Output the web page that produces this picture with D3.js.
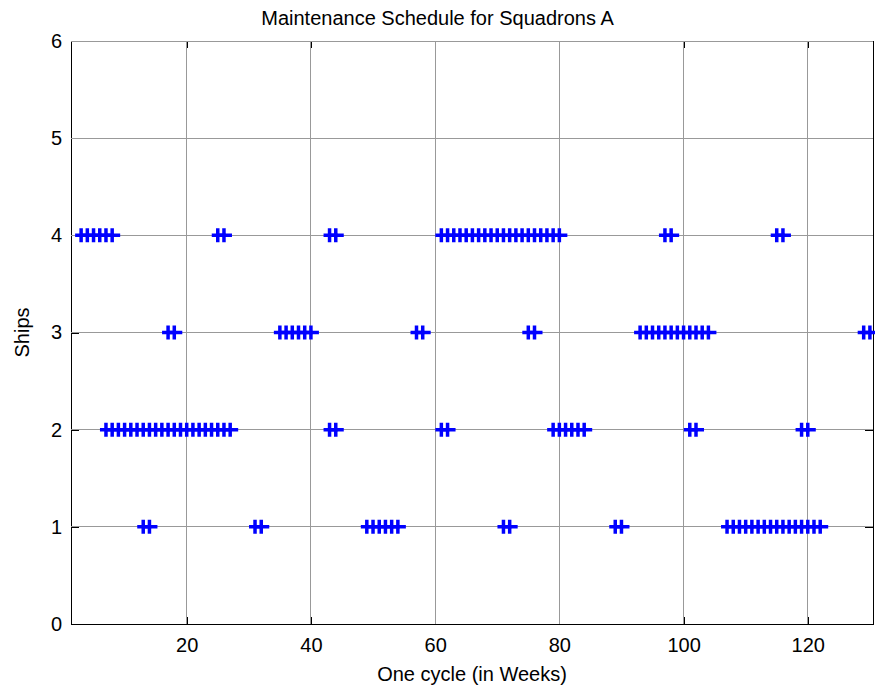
<!DOCTYPE html>
<html>
<head>
<meta charset="utf-8">
<script src="https://cdn.jsdelivr.net/npm/d3@7"></script>
<style>
  body { margin: 0; background: #fff; }
  text { font-family: "Liberation Sans", Arial, sans-serif; }
</style>
</head>
<body>
<div class="chart"></div>
<script>
// maintenance weeks for each ship
var ships = [1, 2, 3, 4];
var ship1Weeks = [13, 14, 31, 32, 49, 50, 51, 52, 53, 54, 71, 72, 89, 90,
  107, 108, 109, 110, 111, 112, 113, 114, 115, 116, 117, 118, 119, 120, 121, 122];
var ship2Weeks = [7, 8, 9, 10, 11, 12, 13, 14, 15, 16, 17, 18, 19, 20, 21, 22, 23, 24, 25, 26, 27,
  43, 44, 61, 62, 79, 80, 81, 82, 83, 84, 101, 102, 119, 120];
var ship3Weeks = [17, 18, 35, 36, 37, 38, 39, 40, 57, 58, 75, 76,
  93, 94, 95, 96, 97, 98, 99, 100, 101, 102, 103, 104, 129, 130];
var ship4Weeks = [3, 4, 5, 6, 7, 8, 25, 26, 43, 44,
  61, 62, 63, 64, 65, 66, 67, 68, 69, 70, 71, 72, 73, 74, 75, 76, 77, 78, 79, 80,
  97, 98, 115, 116];
var xTicks = [20, 40, 60, 80, 100, 120];
var yTicks = [0, 1, 2, 3, 4, 5, 6];

drawchart();

function drawchart() {
  var svgWidth = 875, svgHeight = 688;
  var margin = {top: 41, right: 2, bottom: 64, left: 71};
  var width = svgWidth - margin.left - margin.right,
      height = svgHeight - margin.top - margin.bottom;

  var svg = d3.select(".chart").append("svg")
      .attr("width", svgWidth)
      .attr("height", svgHeight);

  var g = svg.append("g")
      .attr("transform", "translate(" + margin.left + "," + margin.top + ")");

  var x = d3.scaleLinear().domain([1.37, 130.5]).range([0, width]);
  var y = d3.scaleLinear().domain([0, 6]).range([height, 0]);

  // box + inward ticks (MATLAB style)
  var xAxis = d3.axisBottom(x).tickValues(xTicks).tickSize(-7).tickPadding(14);
  var yAxis = d3.axisLeft(y).tickValues(yTicks).tickSize(-8).tickPadding(9)
      .tickFormat(d3.format("d"));

  g.append("g").attr("transform", "translate(0," + height + ")").call(xAxis);
  g.append("g").call(yAxis);
  g.append("g").call(d3.axisTop(x).tickValues(xTicks).tickSize(-7).tickFormat(""));
  g.append("g").attr("transform", "translate(" + width + ",0)")
      .call(d3.axisRight(y).tickValues(yTicks).tickSize(-8).tickFormat(""));

  g.selectAll(".domain").attr("stroke", "#000").attr("shape-rendering", "crispEdges");
  g.selectAll(".tick line").attr("stroke", "#000").attr("shape-rendering", "crispEdges");
  g.selectAll(".tick text").attr("font-size", "20px").attr("fill", "#000")
      .style("font-family", "'Liberation Sans', Arial, sans-serif");

  // grid
  g.selectAll(".xgrid").data(xTicks).enter().append("line")
      .attr("x1", function(d) { return x(d); })
      .attr("x2", function(d) { return x(d); })
      .attr("y1", 0).attr("y2", height)
      .attr("stroke", "#999").attr("stroke-width", 1)
      .attr("shape-rendering", "crispEdges");
  g.selectAll(".ygrid").data(yTicks.slice(1)).enter().append("line")
      .attr("y1", function(d) { return y(d); })
      .attr("y2", function(d) { return y(d); })
      .attr("x1", 0).attr("x2", width)
      .attr("stroke", "#999").attr("stroke-width", 1)
      .attr("shape-rendering", "crispEdges");

  // markers
  var points = [];
  [ship1Weeks, ship2Weeks, ship3Weeks, ship4Weeks].forEach(function(weeks, i) {
    weeks.forEach(function(w) { points.push({week: w, ship: ships[i]}); });
  });

  var plus = "M-6,0H8M0,-7V7";
  g.append("g").selectAll("path").data(points).enter().append("path")
      .attr("d", plus)
      .attr("transform", function(d) {
        return "translate(" + x(d.week) + "," + y(d.ship) + ")";
      })
      .attr("fill", "none")
      .attr("stroke", "#0000ff")
      .attr("stroke-width", 3.5);

  // labels
  svg.append("text")
      .attr("x", svgWidth / 2).attr("y", 25)
      .attr("text-anchor", "middle").attr("font-size", "20px")
      .text("Maintenance Schedule for Squadrons A");
  svg.append("text")
      .attr("x", margin.left + width / 2).attr("y", 681)
      .attr("text-anchor", "middle").attr("font-size", "20px")
      .text("One cycle (in Weeks)");
  svg.append("text")
      .attr("transform", "translate(29," + (margin.top + height / 2) + ") rotate(-90)")
      .attr("text-anchor", "middle").attr("font-size", "20px")
      .text("Ships");
}
</script>
</body>
</html>
